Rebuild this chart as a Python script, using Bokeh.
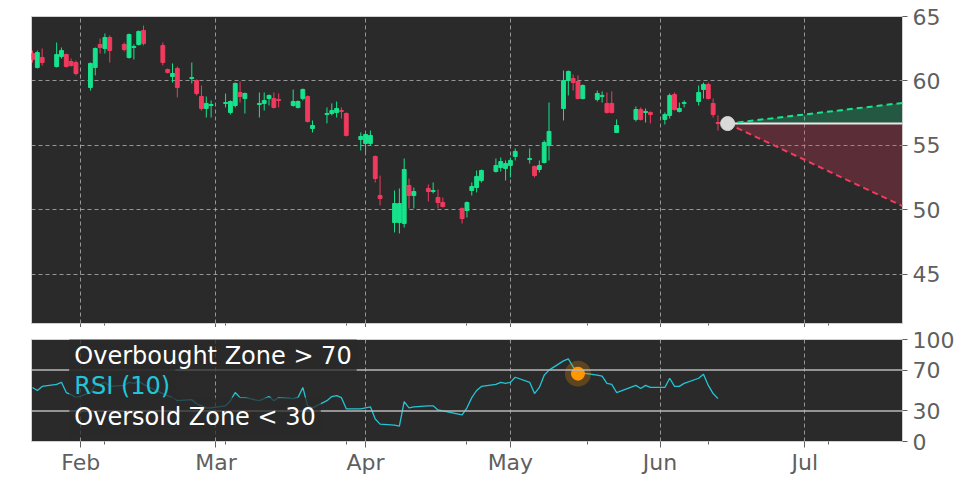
import pandas as pd
from bokeh.plotting import figure
from bokeh.layouts import column
from bokeh.models import (Range1d, FixedTicker, Span, Label, ColumnDataSource,
                          DatetimeTickFormatter, CustomJSTickFormatter)
from bokeh.embed import file_html
from bokeh.resources import INLINE

# ---------------- data ----------------
dates = [
    "2025-01-22", "2025-01-23", "2025-01-24", "2025-01-27", "2025-01-28", "2025-01-29", "2025-01-30", "2025-01-31",
    "2025-02-03", "2025-02-04", "2025-02-05", "2025-02-06", "2025-02-07", "2025-02-10", "2025-02-11", "2025-02-12",
    "2025-02-13", "2025-02-14", "2025-02-18", "2025-02-19", "2025-02-20", "2025-02-21", "2025-02-24", "2025-02-25",
    "2025-02-26", "2025-02-27", "2025-02-28",
    "2025-03-03", "2025-03-04", "2025-03-05", "2025-03-06", "2025-03-07", "2025-03-10", "2025-03-11", "2025-03-12",
    "2025-03-13", "2025-03-14", "2025-03-17", "2025-03-18", "2025-03-19", "2025-03-20", "2025-03-21", "2025-03-24",
    "2025-03-25", "2025-03-26", "2025-03-27", "2025-03-28", "2025-03-31",
    "2025-04-01", "2025-04-02", "2025-04-03", "2025-04-04", "2025-04-07", "2025-04-08", "2025-04-09", "2025-04-10",
    "2025-04-11", "2025-04-14", "2025-04-15", "2025-04-16", "2025-04-17", "2025-04-21", "2025-04-22", "2025-04-23",
    "2025-04-24", "2025-04-25", "2025-04-28", "2025-04-29", "2025-04-30",
    "2025-05-01", "2025-05-02", "2025-05-05", "2025-05-06", "2025-05-07", "2025-05-08", "2025-05-09", "2025-05-12",
    "2025-05-13", "2025-05-14", "2025-05-15", "2025-05-16", "2025-05-19", "2025-05-20", "2025-05-21", "2025-05-22",
    "2025-05-23", "2025-05-27", "2025-05-28", "2025-05-29", "2025-05-30",
    "2025-06-02", "2025-06-03", "2025-06-04", "2025-06-05", "2025-06-06", "2025-06-09", "2025-06-10", "2025-06-11",
    "2025-06-12", "2025-06-13",
]
opens = [
    62.13, 61.05, 61.82, 61.12, 61.90, 62.05, 61.51, 61.43,
    59.50, 61.05, 62.83, 62.52, 63.37, 62.83, 61.82, 62.60, 62.83, 63.91, 62.75, 60.89, 60.35, 60.97, 60.19, 60.04,
    58.80, 57.87, 58.10,
    58.26, 57.56, 58.10, 59.11, 58.64, 58.18, 58.26, 58.64, 58.64, 58.57, 58.10, 57.95, 58.64, 58.80, 56.32, 57.40,
    57.48, 57.56, 57.71, 57.48, 55.47,
    55.16, 55.16, 54.15, 51.12, 49.03, 49.03, 48.95, 51.90, 51.12, 51.67, 51.43, 50.97, 50.58, 50.12, 49.96, 51.51,
    51.74, 52.29, 52.98, 53.29, 53.22,
    53.45, 54.15, 53.91, 53.37, 53.14, 53.68, 55.00, 57.87, 60.04, 60.19, 59.96, 58.64, 58.57, 58.80, 58.26, 58.26,
    56.01, 57.02, 57.79, 57.56, 57.56,
    57.02, 57.33, 58.95, 57.64, 58.26, 58.41, 59.34, 59.73, 58.26, 56.78,
]
highs = [
    62.36, 62.36, 62.52, 62.98, 62.60, 62.13, 61.74, 61.59,
    61.43, 62.60, 63.29, 63.68, 63.53, 62.98, 63.68, 62.83, 63.91, 64.30, 62.98, 60.97, 61.36, 61.12, 61.43, 60.12,
    59.65, 58.80, 58.49,
    59.03, 58.49, 59.88, 59.96, 59.11, 59.11, 59.11, 58.95, 59.11, 59.03, 59.34, 58.49, 59.42, 58.88, 56.94, 57.95,
    58.26, 58.41, 57.95, 57.56, 56.01,
    55.93, 56.16, 54.22, 52.67, 51.51, 51.67, 53.99, 52.44, 51.74, 51.98, 52.13, 51.59, 50.97, 50.19, 50.66, 52.13,
    53.06, 53.14, 53.99, 54.07, 53.84,
    54.07, 54.77, 54.77, 53.45, 53.84, 55.39, 58.33, 60.81, 60.81, 60.50, 60.43, 59.73, 59.26, 59.19, 59.11, 59.19,
    57.02, 58.02, 57.95, 57.87, 57.64,
    57.56, 59.03, 59.11, 58.33, 58.49, 59.65, 59.88, 59.88, 58.64, 57.33,
]
lows = [
    61.43, 60.97, 61.20, 61.05, 61.74, 61.05, 61.12, 60.43,
    59.26, 60.43, 62.13, 62.13, 61.43, 62.29, 61.74, 61.67, 62.75, 62.75, 61.20, 60.58, 59.88, 58.72, 59.81, 58.88,
    57.71, 57.17, 57.17,
    57.95, 57.40, 57.95, 58.33, 57.48, 57.17, 57.71, 58.10, 57.87, 57.95, 58.02, 57.87, 58.49, 56.78, 56.01, 56.71,
    57.33, 57.17, 57.09, 55.70, 54.61,
    54.46, 55.00, 52.13, 50.35, 48.26, 48.18, 48.64, 50.12, 50.12, 50.66, 51.28, 50.12, 50.19, 48.95, 49.42, 51.12,
    51.36, 52.13, 52.91, 52.98, 52.29,
    52.52, 53.84, 53.60, 52.52, 52.91, 53.60, 53.84, 56.94, 58.88, 59.26, 58.57, 58.57, 58.41, 58.33, 57.48, 57.48,
    56.01, 56.86, 56.94, 56.78, 56.71,
    56.63, 57.09, 57.71, 57.56, 57.95, 58.10, 58.64, 58.57, 57.17, 56.16,
]
closes = [
    61.67, 62.21, 61.43, 62.05, 62.36, 61.12, 61.20, 60.58,
    61.36, 62.52, 62.60, 63.37, 62.36, 62.44, 63.60, 62.67, 63.84, 62.91, 61.43, 60.66, 60.58, 59.50, 60.27, 59.03,
    57.87, 58.26, 58.18,
    58.33, 58.41, 59.81, 58.80, 59.03, 58.26, 58.49, 58.88, 57.95, 58.49, 58.41, 58.41, 59.34, 56.86, 56.55, 57.48,
    57.71, 57.87, 57.64, 55.78, 55.70,
    55.85, 55.78, 52.44, 50.89, 50.50, 50.50, 53.14, 51.12, 51.43, 51.43, 51.51, 50.58, 50.27, 49.34, 50.58, 51.82,
    52.60, 53.06, 53.45, 53.76, 53.60,
    53.84, 54.54, 53.99, 52.67, 53.45, 55.23, 56.09, 60.04, 60.74, 59.88, 58.64, 59.65, 59.03, 58.88, 57.56, 57.56,
    56.55, 57.79, 57.02, 57.64, 57.40,
    57.40, 58.88, 57.79, 57.87, 58.33, 59.11, 59.73, 58.64, 57.40, 56.71,
]
rsi = [
    53, 50, 54, 56, 58, 48, 46, 43,
    48, 55, 56, 58, 54, 55, 58, 57, 59, 56, 47, 45, 43, 40, 41, 37,
    35, 33, 33,
    35, 40, 48, 43, 43, 40, 42, 44, 40, 43, 42, 43, 53, 35, 33, 40,
    44, 45, 43, 32, 32,
    33, 34, 22, 17, 16, 15, 39, 33, 34, 35, 35, 31, 30, 26, 33, 43,
    50, 54, 56, 58, 57,
    58, 63, 58, 47, 53, 65, 70, 79, 81, 73, 68, 67, 65, 64, 57, 56,
    48, 55, 52, 55, 53,
    53, 62, 54, 54, 57, 62, 66, 55, 47, 42,
]
rsi_marker_date = ["2025-05-15"]
rsi_marker_value = [66.5]

forecast_dates = ["2025-06-15 00:00", "2025-07-21 05:30"]
forecast_mid = [56.7, 56.7]
forecast_high = [56.7, 58.3]
forecast_low = [56.7, 50.3]

month_ticks = ["2025-02-01", "2025-03-01", "2025-04-01", "2025-05-01", "2025-06-01", "2025-07-01"]
minor_ticks = ["2025-02-06", "2025-03-03", "2025-03-28", "2025-04-22", "2025-05-17", "2025-06-11", "2025-07-06"]
price_ticks = [45, 50, 55, 60, 65]
rsi_ticks = [0, 30, 70, 100]
overbought_level = 70
oversold_level = 30

# ---------------- style ----------------
BG = "#2a2a2a"
GREEN = "#16e38c"
RED = "#f03a5e"
AXIS_TXT = "#5f5f5f"
FONT = "DejaVu Sans"
DAY_MS = 24 * 3600 * 1000


def ms(s):
    return pd.Timestamp(s).value / 1e6


def ts(lst):
    return [pd.Timestamp(s) for s in lst]


xr = Range1d(start=ms("2025-01-21 19:00"), end=ms("2025-07-21 05:30"))
month_ms = [ms(d) for d in month_ticks]
minor_ms = [ms(d) for d in minor_ticks]

df = pd.DataFrame({"date": ts(dates), "open": opens, "high": highs,
                   "low": lows, "close": closes})
df["top"] = df[["open", "close"]].max(axis=1)
df["bottom"] = df[["open", "close"]].min(axis=1)
df["color"] = [GREEN if c >= o else RED for o, c in zip(df["open"], df["close"])]
src = ColumnDataSource(df)


def style(fig):
    fig.background_fill_color = BG
    fig.border_fill_color = "white"
    fig.outline_line_color = "#d0d0d0"
    fig.outline_line_width = 1
    fig.xgrid.ticker = FixedTicker(ticks=month_ms)
    fig.xgrid.grid_line_color = "#b0b0b0"
    fig.xgrid.grid_line_dash = "4 3"
    fig.xgrid.grid_line_alpha = 0.8
    for ax in fig.yaxis:
        ax.axis_line_color = None
        ax.major_tick_line_color = AXIS_TXT
        ax.major_tick_out = 5
        ax.major_tick_in = 0
        ax.minor_tick_line_color = None
        ax.major_label_text_font = FONT
        ax.major_label_text_font_size = "22px"
        ax.major_label_text_color = AXIS_TXT
        ax.major_label_standoff = 5
    for ax in fig.xaxis:
        ax.ticker = FixedTicker(ticks=month_ms, minor_ticks=minor_ms)
        ax.formatter = DatetimeTickFormatter(days="%b", months="%b", years="%b", hours="%b")
        ax.axis_line_color = None
        ax.major_tick_line_color = AXIS_TXT
        ax.major_tick_out = 6
        ax.major_tick_in = 0
        ax.minor_tick_line_color = AXIS_TXT
        ax.minor_tick_out = 3
        ax.minor_tick_in = 0
        ax.major_label_text_font = FONT
        ax.major_label_text_font_size = "22px"
        ax.major_label_text_color = AXIS_TXT
        ax.major_label_standoff = 2


# ---------------- top: candles ----------------
p1 = figure(x_axis_type="datetime", y_axis_location="right", x_range=xr,
            y_range=Range1d(41.2, 65), frame_width=871, frame_height=307,
            min_border_left=31, min_border_top=16, min_border_bottom=4, min_border_right=60,
            output_backend="svg", toolbar_location=None)
style(p1)
p1.yaxis.ticker = FixedTicker(ticks=price_ticks)
p1.ygrid.ticker = FixedTicker(ticks=price_ticks)
p1.ygrid.grid_line_color = "#b0b0b0"
p1.ygrid.grid_line_dash = "4 3"
p1.ygrid.grid_line_alpha = 0.8
p1.xaxis.formatter = CustomJSTickFormatter(code="return ''")
p1.xaxis.major_label_standoff = 0
p1.xaxis.major_tick_out = 4
p1.xaxis.minor_tick_out = 2

fx = ts(forecast_dates)
p1.varea(x=fx, y1=forecast_mid, y2=forecast_high, fill_color=GREEN, fill_alpha=0.25)
p1.varea(x=fx, y1=forecast_low, y2=forecast_mid, fill_color=RED, fill_alpha=0.25)
p1.line(x=fx, y=forecast_mid, line_color="#e8e8e8", line_width=2)
p1.line(x=fx, y=forecast_high, line_color=GREEN, line_width=2, line_dash="6 4")
p1.line(x=fx, y=forecast_low, line_color=RED, line_width=2, line_dash="6 4")

p1.segment(x0="date", y0="high", x1="date", y1="low", color="color", line_width=1, source=src)
p1.vbar(x="date", width=0.8 * DAY_MS, top="top", bottom="bottom", fill_color="color",
        line_color="color", line_width=1, source=src)
p1.scatter(x=fx[:1], y=forecast_mid[:1], size=14, fill_color="#d9d9d9", line_color="#d9d9d9")

# ---------------- bottom: RSI ----------------
p2 = figure(x_axis_type="datetime", y_axis_location="right", x_range=xr,
            y_range=Range1d(0, 100), frame_width=871, frame_height=102,
            min_border_left=31, min_border_top=12, min_border_bottom=6, min_border_right=60,
            output_backend="svg", toolbar_location=None)
style(p2)
p2.yaxis.ticker = FixedTicker(ticks=rsi_ticks)
p2.ygrid.grid_line_color = None

p2.add_layout(Span(location=overbought_level, dimension="width", line_color="#b8b8b8", line_width=1.5))
p2.add_layout(Span(location=oversold_level, dimension="width", line_color="#b8b8b8", line_width=1.5))
p2.line(x=ts(dates), y=rsi, line_color="#22c5d6", line_width=1.3)
p2.scatter(x=ts(rsi_marker_date), y=rsi_marker_value, size=26,
           fill_color="#ff9800", fill_alpha=0.25, line_color=None)
p2.scatter(x=ts(rsi_marker_date), y=rsi_marker_value, size=14,
           fill_color="#ff9800", line_color=None)

label_x = ms("2025-01-29 15:00")
for txt, yv, col in [("Overbought Zone > 70", 83.5, "white"),
                     ("RSI (10)", 54, "#22c5d6"),
                     ("Oversold Zone < 30", 24.5, "white")]:
    p2.add_layout(Label(x=label_x, y=yv, text=txt, text_font=FONT, text_font_size="24px",
                        text_color=col, text_baseline="middle", text_align="left",
                        background_fill_color=BG, background_fill_alpha=0.75, padding=5))

layout = column(p1, p2, spacing=0)
open("out.html", "w").write(file_html(layout, INLINE))
